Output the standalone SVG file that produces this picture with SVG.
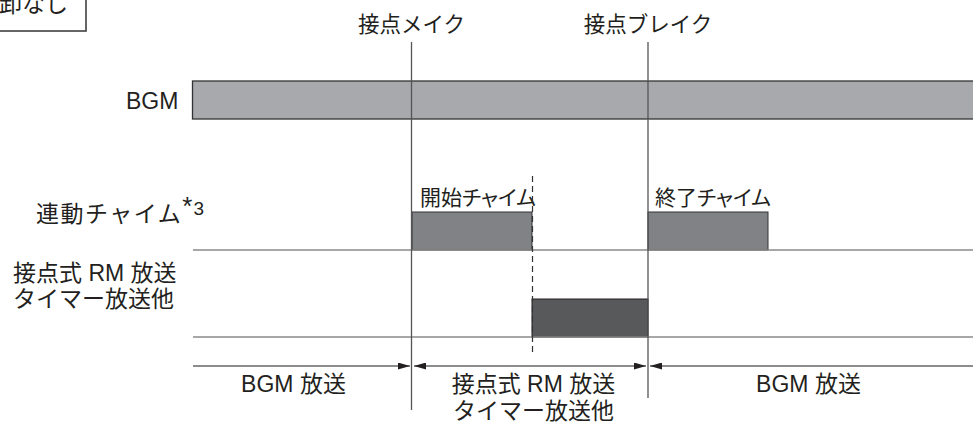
<svg xmlns="http://www.w3.org/2000/svg" width="973" height="434" viewBox="0 0 973 434">
<style>
text{font-family:"Liberation Sans","Noto Sans CJK JP",sans-serif;fill:#231f20}
.t23{font-size:23px}
.top{font-size:21.5px;text-anchor:middle}
.chime{font-size:21px;font-feature-settings:"palt"}
.mid{text-anchor:middle}
.hline{stroke:#8a8a8a;stroke-width:1.6;fill:none}
.vline{stroke:#555;stroke-width:1.3;fill:none}
.arrow{stroke:#666;stroke-width:1.3;fill:none}
</style>
<defs>
<marker id="ah" viewBox="0 0 12 7" refX="12" refY="3.5" markerWidth="12" markerHeight="7" markerUnits="userSpaceOnUse" orient="auto-start-reverse">
<path d="M0,0 L12,3.5 L0,7 z" fill="#231f20"/>
</marker>
</defs>
<rect width="973" height="434" fill="#ffffff"/>

<g id="corner-box">
<rect x="-10" y="-10" width="96" height="41" fill="#fff" stroke="#333" stroke-width="1.5"/>
<text x="-1" y="12" style="font-size:23px">卸なし</text>
</g>

<g id="bgm-row">
<rect x="192.5" y="81" width="790" height="38" fill="#a7a9ac" stroke="#333" stroke-width="1.3"/>
<text class="t23" x="126" y="109">BGM</text>
</g>

<g id="chime-row">
<text class="t23" x="36" y="222" style="letter-spacing:1.5px">連動チャイム<tspan dy="-7" style="font-size:26px;letter-spacing:0">*</tspan><tspan dx="1" style="font-size:19px;letter-spacing:0">3</tspan></text>
<rect x="412" y="212" width="120" height="38" fill="#808285" stroke="#333" stroke-width="1"/>
<text class="chime" x="420" y="205">開始チャイム</text>
<rect x="648" y="212" width="120" height="38" fill="#808285" stroke="#333" stroke-width="1"/>
<text class="chime" x="655" y="205">終了チャイム</text>
</g>

<g id="rm-row">
<text class="t23" x="13" y="281">接点式 RM 放送</text>
<text class="t23" x="13" y="307">タイマー放送他</text>
<rect x="532" y="299" width="116" height="38" fill="#58595b" stroke="#231f20" stroke-width="1"/>
</g>

<g id="grid">
<line class="hline" x1="193" y1="250" x2="973" y2="250"/>
<line class="hline" x1="193" y1="337" x2="973" y2="337"/>
</g>

<g id="events">
<text class="top" x="411.5" y="31.5">接点メイク</text>
<text class="top" x="648" y="31.5">接点ブレイク</text>
<line class="vline" x1="411.5" y1="42" x2="411.5" y2="410"/>
<line class="vline" x1="648" y1="42" x2="648" y2="398"/>
<line x1="532.5" y1="176" x2="532.5" y2="356" stroke="#333" stroke-width="1.2" stroke-dasharray="6,4"/>
</g>

<g id="connectors">
<line class="arrow" x1="193" y1="366" x2="410" y2="366" marker-end="url(#ah)"/>
<line class="arrow" x1="414" y1="366" x2="646" y2="366" marker-start="url(#ah)" marker-end="url(#ah)"/>
<line class="arrow" x1="650" y1="366" x2="973" y2="366" marker-start="url(#ah)"/>
</g>

<g id="periods">
<text class="t23 mid" x="293.5" y="392">BGM 放送</text>
<text class="t23 mid" x="533.5" y="392">接点式 RM 放送</text>
<text class="t23 mid" x="533.5" y="419">タイマー放送他</text>
<text class="t23 mid" x="808.5" y="392">BGM 放送</text>
</g>
</svg>
